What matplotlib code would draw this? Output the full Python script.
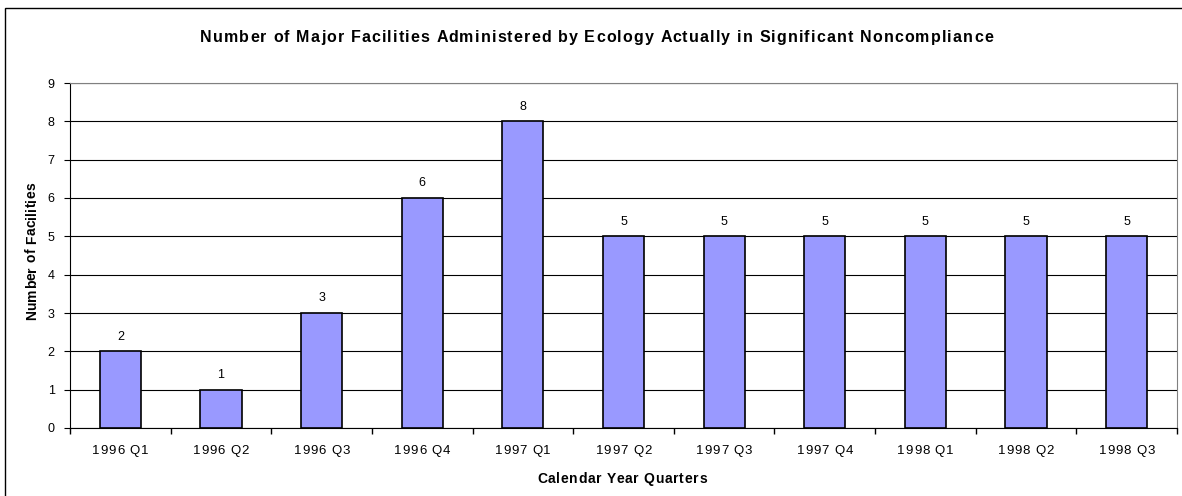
import matplotlib.pyplot as plt
from matplotlib.patches import Rectangle
from matplotlib.font_manager import FontProperties
from matplotlib.transforms import IdentityTransform

quarters = ["1996 Q1", "1996 Q2", "1996 Q3", "1996 Q4", "1997 Q1", "1997 Q2",
            "1997 Q3", "1997 Q4", "1998 Q1", "1998 Q2", "1998 Q3"]
facilities = [2, 1, 3, 6, 8, 5, 5, 5, 5, 5, 5]

title = "Number of Major Facilities Administered by Ecology Actually in Significant Noncompliance"
xlabel = "Calendar Year Quarters"
ylabel = "Number of Facilities"

FONT = ["Liberation Sans", "DejaVu Sans"]
plt.rcParams["font.family"] = FONT

W, H = 1182, 496
fig = plt.figure(figsize=(W / 100, H / 100), dpi=100)
renderer = fig.canvas.get_renderer()


def text_width(s, prop):
    w, h, d = renderer.get_text_width_height_descent(s, prop, ismath=False)
    return w


def offsets(s, prop):
    # x offset of each character from the start of the string
    ref = text_width("X", prop)
    return [text_width(s[:i] + "X", prop) - ref if i else 0.0 for i in range(len(s))]


def spaced(s, x, y, size, weight="normal", width=None, spacing=0.0,
           ha="center", vertical=False):
    # draws the string char by char with extra tracking (old Excel look)
    # x, y in image pixels (from top-left), y = baseline
    prop = FontProperties(family=FONT, size=size, weight=weight)
    offs = offsets(s, prop)
    natural = text_width(s, prop)
    if width is not None and len(s) > 1:
        spacing = (width - natural) / (len(s) - 1)
    total = natural + spacing * (len(s) - 1)
    start = {"center": -total / 2, "left": 0, "right": -total}[ha]
    for i, c in enumerate(s):
        d = start + offs[i] + spacing * i
        if vertical:
            px, py = x, H - (y - d)
            rot = 90
        else:
            px, py = x + d, H - y
            rot = 0
        fig.text(px, py, c, transform=IdentityTransform(), fontproperties=prop,
                 ha="left", va="baseline", rotation=rot, rotation_mode="anchor")


ax = fig.add_axes([70 / W, 1 - 428 / H, (1177 - 70) / W, (428 - 83) / H])

x = list(range(len(quarters)))
ax.bar(x, facilities, width=0.41, color="#9999FF", edgecolor="black",
       linewidth=1.2, zorder=3)
for xi, v in zip(x, facilities):
    ax.text(xi, v + 0.23, str(v), ha="center", va="bottom", fontsize=9)

ax.set_xlim(-0.5, len(quarters) - 0.5)
ax.set_ylim(0, 9)
ax.set_yticks(range(10))
ax.yaxis.grid(True, color="black", linewidth=0.8, zorder=0)
ax.set_xticks(x)
ax.set_xticklabels([])
ax.set_xticks([i - 0.5 for i in range(len(quarters) + 1)], minor=True)
ax.tick_params(axis="x", which="major", length=0)
ax.tick_params(axis="x", which="minor", length=4, direction="out", width=1)
ax.tick_params(axis="y", length=4, direction="out", labelsize=9, pad=7)

ax.spines["left"].set_color("black")
ax.spines["bottom"].set_color("black")
ax.spines["top"].set_color("#808080")
ax.spines["right"].set_color("#808080")

# x tick labels with tracking, positioned through the axes transform
for xi, q in zip(x, quarters):
    px, _ = ax.transData.transform((xi, 0))
    spaced(q, px, 454, 9.5, width=56)

spaced(xlabel, 622, 483, 10, weight="bold", width=170)
spaced(ylabel, 36, 251, 10, weight="bold", width=138, vertical=True)
spaced(title, 596.5, 42, 11.5, weight="bold", width=793)

fig.patches.append(Rectangle((5 / W, -0.1), 1.2, 1 - 8 / H + 0.1,
                             transform=fig.transFigure, fill=False,
                             edgecolor="black", linewidth=1))

fig.savefig("out.png", dpi=100)
